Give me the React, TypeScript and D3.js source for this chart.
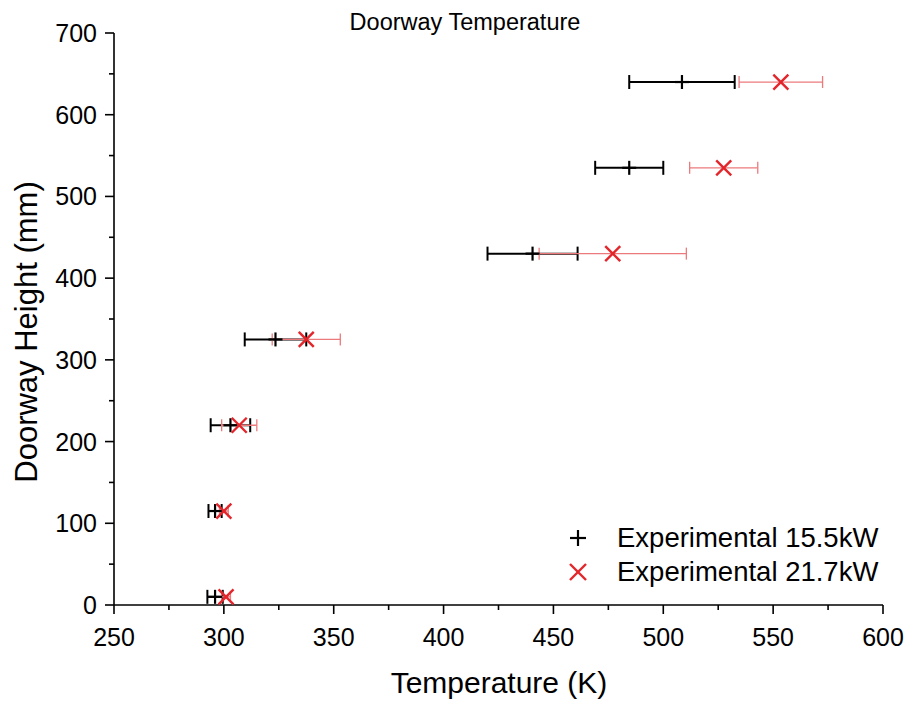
import React from "react";
import * as d3 from "d3";

const heights = [640, 535, 430, 325, 220, 115, 10];
const temp155 = [508.5, 484.5, 440.5, 323.5, 303, 296, 296];
const err155 = [24, 15.5, 20.5, 14, 9, 3, 3.5];
const temp217 = [553.5, 527.5, 477, 337.5, 307, 300, 301];
const err217 = [19, 15.5, 33.5, 15.5, 8, 2, 2];
const xTicks = [250, 300, 350, 400, 450, 500, 550, 600];
const yTicks = [0, 100, 200, 300, 400, 500, 600, 700];
const xMinor = [275, 325, 375, 425, 475, 525, 575];
const yMinor = [50, 150, 250, 350, 450, 550, 650];
const seriesNames = ["Experimental 15.5kW", "Experimental 21.7kW"];

const W = 906;
const H = 702;
const FONT = "Liberation Sans, Arial, sans-serif";
const RED = "#e3262b";
const RED_BAR = "#ec7a7c";

export default function App() {
  const x = d3.scaleLinear().domain([250, 600]).range([114, 883]);
  const y = d3.scaleLinear().domain([0, 700]).range([605, 33]);
  const x0 = x(250);
  const y0 = y(0);

  return (
    <svg
      width={W}
      height={H}
      style={{ position: "absolute", left: 0, top: 0, background: "#fff" }}
      fontFamily={FONT}
    >
      <rect width={W} height={H} fill="#fff" />
      {/* title */}
      <text x={465} y={30} fontSize={23.5} textAnchor="middle" fill="#000">
        Doorway Temperature
      </text>

      {/* axes */}
      <line x1={x0} x2={x(600)} y1={y0} y2={y0} stroke="#000" strokeWidth={1.6} />
      <line x1={x0} x2={x0} y1={y0} y2={y(700)} stroke="#000" strokeWidth={1.6} />
      {xTicks.map((t) => (
        <g key={"xt" + t}>
          <line x1={x(t)} x2={x(t)} y1={y0} y2={y0 + 9} stroke="#000" strokeWidth={1.6} />
          <text x={x(t)} y={y0 + 41} fontSize={25} textAnchor="middle" fill="#000">
            {t}
          </text>
        </g>
      ))}
      {xMinor.map((t) => (
        <line key={"xm" + t} x1={x(t)} x2={x(t)} y1={y0} y2={y0 + 5} stroke="#000" strokeWidth={1.6} />
      ))}
      {yTicks.map((t) => (
        <g key={"yt" + t}>
          <line x1={x0 - 9} x2={x0} y1={y(t)} y2={y(t)} stroke="#000" strokeWidth={1.6} />
          <text x={x0 - 17} y={y(t) + 9} fontSize={25} textAnchor="end" fill="#000">
            {t}
          </text>
        </g>
      ))}
      {yMinor.map((t) => (
        <line key={"ym" + t} x1={x0 - 5} x2={x0} y1={y(t)} y2={y(t)} stroke="#000" strokeWidth={1.6} />
      ))}

      <text x={499} y={693} fontSize={30} textAnchor="middle" fill="#000">
        Temperature (K)
      </text>
      <text
        transform={`translate(37, 332) rotate(-90)`}
        fontSize={31}
        textAnchor="middle"
        fill="#000"
      >
        Doorway Height (mm)
      </text>

      {/* series 15.5 kW error bars */}
      {heights.map((h, i) => {
        const cy = y(h);
        const l = x(temp155[i] - err155[i]);
        const r = x(temp155[i] + err155[i]);
        return (
          <g key={"b1" + i} stroke="#000" strokeWidth={2}>
            <line x1={l} x2={r} y1={cy} y2={cy} />
            <line x1={l} x2={l} y1={cy - 7} y2={cy + 7} />
            <line x1={r} x2={r} y1={cy - 7} y2={cy + 7} />
          </g>
        );
      })}
      {/* series 21.7 kW error bars */}
      {heights.map((h, i) => {
        const cy = y(h);
        const l = x(temp217[i] - err217[i]);
        const r = x(temp217[i] + err217[i]);
        return (
          <g key={"b2" + i} stroke={RED_BAR} strokeWidth={1.3}>
            <line x1={l} x2={r} y1={cy} y2={cy} />
            <line x1={l} x2={l} y1={cy - 6} y2={cy + 6} />
            <line x1={r} x2={r} y1={cy - 6} y2={cy + 6} />
          </g>
        );
      })}
      {/* markers */}
      {heights.map((h, i) => {
        const cx = x(temp155[i]);
        const cy = y(h);
        return (
          <g key={"m1" + i} stroke="#000" strokeWidth={2.2}>
            <line x1={cx} x2={cx} y1={cy - 7} y2={cy + 7} />
            <line x1={cx - 7} x2={cx + 7} y1={cy} y2={cy} />
          </g>
        );
      })}
      {heights.map((h, i) => {
        const cx = x(temp217[i]);
        const cy = y(h);
        const s = 7.5;
        return (
          <g key={"m2" + i} stroke={RED} strokeWidth={2.4}>
            <line x1={cx - s} x2={cx + s} y1={cy - s} y2={cy + s} />
            <line x1={cx - s} x2={cx + s} y1={cy + s} y2={cy - s} />
          </g>
        );
      })}

      {/* legend */}
      <g stroke="#000" strokeWidth={2.2}>
        <line x1={578} x2={578} y1={530} y2={546} />
        <line x1={570} x2={586} y1={538} y2={538} />
      </g>
      <g stroke={RED} strokeWidth={2.4}>
        <line x1={570} x2={586} y1={564} y2={580} />
        <line x1={570} x2={586} y1={580} y2={564} />
      </g>
      <text x={617} y={547} fontSize={27.5} fill="#000">
        {seriesNames[0]}
      </text>
      <text x={617} y={581} fontSize={27.5} fill="#000">
        {seriesNames[1]}
      </text>
    </svg>
  );
}
